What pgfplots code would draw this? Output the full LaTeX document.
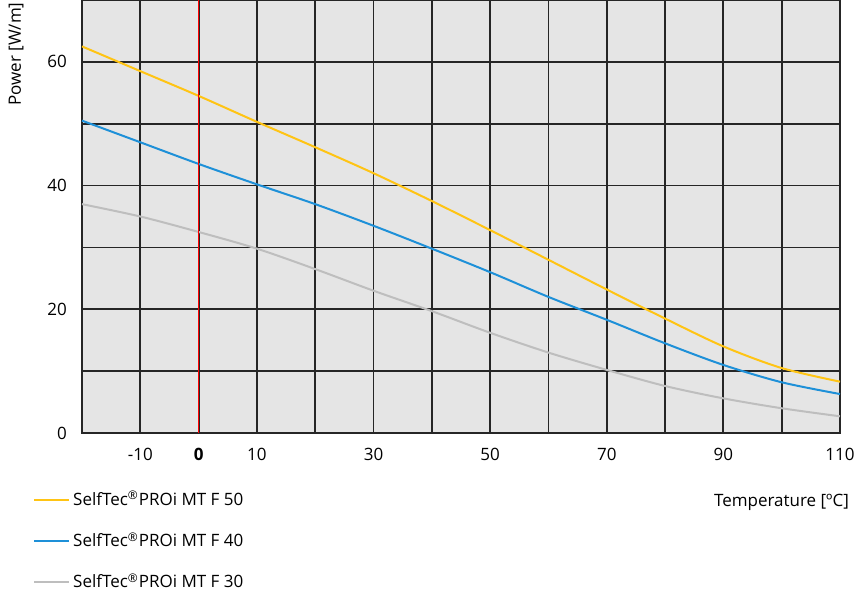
\documentclass[border=0pt]{standalone}
\usepackage{pgfplots}
\pgfplotsset{compat=1.18}
\usepackage{fontspec}
\setmainfont{Open Sans}
\definecolor{cy}{HTML}{FFC414}
\definecolor{cb}{HTML}{1E90D8}
\definecolor{cg}{HTML}{BEBEBE}
\begin{document}
\begin{tikzpicture}
\useasboundingbox (-41pt,-83.5pt) rectangle (392.5pt,216.5pt);
\begin{axis}[
  at={(0,0)}, anchor=south west,
  width=379pt, height=216.5pt, scale only axis,
  xmin=-20, xmax=110, ymin=0, ymax=70,
  font=\fontsize{8.5}{10}\selectfont,
  axis background/.style={fill=black!10},
  xtick={-20,-10,0,10,20,30,40,50,60,70,80,90,100,110},
  xticklabels={,-10,\textbf{0},10,,30,,50,,70,,90,,110},
  ytick={0,10,20,30,40,50,60,70},
  yticklabels={0,,20,,40,,60,},
  grid=major, major grid style={black!85, line width=0.9pt},
  axis line style={black!85, line width=0.9pt},
  tick style={draw=none},
  xticklabel style={yshift=-4pt},
  yticklabel style={xshift=-4pt},
  /pgf/number format/assume math mode=true,
  xlabel={Temperature [ºC]},
  xlabel style={at={(rel axis cs:1,0)}, anchor=north east, xshift=8pt, yshift=-27pt},
  legend style={at={(-0.073,-0.115)}, anchor=north west, draw=none, fill=none,
    row sep=8pt, font=\fontsize{8.5}{10}\selectfont, cells={anchor=west}},
  legend cell align=left,
  clip=false,
]
\addplot[cy, line width=1pt, smooth] coordinates {(-20,62.5)(-10,58.5)(0,54.5)(10,50.3)(20,46.2)(30,42)(40,37.5)(50,32.8)(60,28)(70,23.2)(80,18.5)(90,14)(100,10.5)(110,8.3)};
\addlegendentry{SelfTec\textsuperscript{®}PROi MT F 50}
\addplot[cb, line width=1pt, smooth] coordinates {(-20,50.5)(-10,47)(0,43.5)(10,40.2)(20,37)(30,33.5)(40,29.8)(50,26)(60,22)(70,18.3)(80,14.5)(90,11)(100,8.2)(110,6.3)};
\addlegendentry{SelfTec\textsuperscript{®}PROi MT F 40}
\addplot[cg, line width=1pt, smooth] coordinates {(-20,37)(-10,35)(0,32.5)(10,29.8)(20,26.5)(30,23)(40,19.7)(50,16.2)(60,13)(70,10.2)(80,7.6)(90,5.6)(100,4)(110,2.7)};
\addlegendentry{SelfTec\textsuperscript{®}PROi MT F 30}
\draw[red, line width=0.8pt] (axis cs:0,0) -- (axis cs:0,70);
\node[rotate=90, anchor=south east, inner sep=0pt] at ([xshift=-29pt,yshift=-1pt]rel axis cs:0,1) {Power [W/m]};
\end{axis}
\end{tikzpicture}
\end{document}
